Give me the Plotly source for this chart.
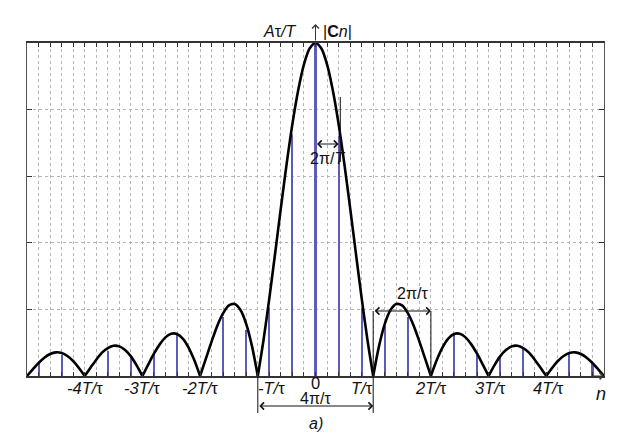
import plotly.graph_objects as go

# ---------------- data ----------------
# envelope |C(n)| sampled on the positive half (units of T/tau), mirrored for negative side
env_u = [0.0, 0.1, 0.2, 0.3, 0.4, 0.5, 0.6, 0.7, 0.8, 0.9,
         1.0, 1.1, 1.2, 1.3, 1.4, 1.5, 1.6, 1.7, 1.8, 1.9,
         2.0, 2.1, 2.2, 2.3, 2.4, 2.5, 2.6, 2.7, 2.8, 2.9,
         3.0, 3.1, 3.2, 3.3, 3.4, 3.5, 3.6, 3.7, 3.8, 3.9,
         4.0, 4.1, 4.2, 4.3, 4.4, 4.5, 4.6, 4.7, 4.8, 4.9, 5.0]
env_v = [1.000, 0.984, 0.936, 0.858, 0.757, 0.637, 0.505, 0.368, 0.234, 0.109,
         0.000, 0.089, 0.156, 0.198, 0.216, 0.212, 0.189, 0.152, 0.104, 0.052,
         0.000, 0.047, 0.085, 0.112, 0.126, 0.127, 0.116, 0.095, 0.067, 0.034,
         0.000, 0.032, 0.059, 0.078, 0.089, 0.091, 0.084, 0.070, 0.049, 0.025,
         0.000, 0.024, 0.045, 0.060, 0.069, 0.071, 0.066, 0.055, 0.039, 0.020, 0.000]

# spectral lines
line_u = [-4.8, -4.4, -4.0, -3.6, -3.2, -2.8, -2.4, -2.0, -1.6, -1.2, -0.8, -0.4,
          0.0, 0.4, 0.8, 1.2, 1.6, 2.0, 2.4, 2.8, 3.2, 3.6, 4.0, 4.4, 4.8]
line_h = [0.042, 0.062, 0.0, 0.075, 0.053, 0.068, 0.122, 0.0, 0.177, 0.137, 0.203, 0.723,
          1.000, 0.720, 0.203, 0.149, 0.177, 0.0, 0.122, 0.062, 0.054, 0.082, 0.0, 0.066, 0.038]

tick_pos = [-4, -3, -2, -1, 0, 1, 2, 3, 4]
tick_txt = ["<i>-4T/</i>τ", "<i>-3T/</i>τ", "<i>-2T/</i>τ", "<i>-T/</i>τ", "0",
            "<i>T/</i>τ", "<i>2T/</i>τ", "<i>3T/</i>τ", "<i>4T/</i>τ"]
tick_shift = [0, 0, 0, 14, 0, -11, 0, 2, 2]
tick_yshift = [0, 0, 0, 0, 5, 0, 0, 0, 0]

# ---------------- geometry ----------------
W, H = 629, 442
ML, MR, MT, MB = 27, 25, 43, 66
XR = [-5, 5]
YR = [0, 1]
PH = H - MT - MB
PW = W - ML - MR
UNIT = PW / (XR[1] - XR[0])


def px(u):
    return (u - XR[0]) / (XR[1] - XR[0])


def py(ypix):
    return (H - MB - ypix) / PH


FONT = "Liberation Sans, Arial, sans-serif"
BLUE = "rgb(92,92,185)"

# build mirrored envelope, split into lobes at zeros (cusps)
full_u = [-u for u in env_u[::-1]] + env_u[1:]
full_v = env_v[::-1] + env_v[1:]
ex, ey = [], []
for i, (u, v) in enumerate(zip(full_u, full_v)):
    ex.append(u)
    ey.append(v)
    if v == 0 and 0 < i < len(full_u) - 1:
        ex += [None, u]
        ey += [None, v]

fig = go.Figure()
widths = [0.055 if u == 0 else 0.036 for u in line_u]
fig.add_trace(go.Bar(x=line_u, y=line_h, width=widths,
                     marker=dict(color=BLUE, line=dict(width=0)),
                     hoverinfo="skip", showlegend=False))
fig.add_trace(go.Scatter(x=ex, y=ey, mode="lines",
                         line=dict(color="black", width=2.6, shape="spline", smoothing=0.8),
                         hoverinfo="skip", showlegend=False, cliponaxis=False))

ann = []
tf = dict(family=FONT, size=16, color="#111")
tk = dict(family=FONT, size=16.5, color="#111")
for p, t, s, ys in zip(tick_pos, tick_txt, tick_shift, tick_yshift):
    ann.append(dict(x=px(p), y=py(388), xref="paper", yref="paper", text=t,
                    showarrow=False, font=tk, xshift=s, yshift=ys,
                    xanchor="center", yanchor="middle"))

ann += [
    dict(x=px(-0.3), y=py(32), xref="paper", yref="paper", text="<i>A</i>τ<i>/T</i>",
         showarrow=False, font=tf, xanchor="right", yanchor="middle"),
    dict(x=px(0.1), y=py(32), xref="paper", yref="paper", text="|<b>C</b><i>n</i>|",
         showarrow=False, font=tf, xanchor="left", yanchor="middle"),
    dict(x=px(0.21), y=py(158), xref="paper", yref="paper", text="2π/<i>T</i>",
         showarrow=False, font=tf, xanchor="center", yanchor="middle"),
    dict(x=px(1.68), y=py(293), xref="paper", yref="paper", text="2π/τ",
         showarrow=False, font=tf, xanchor="center", yanchor="middle"),
    dict(x=px(0), y=py(399), xref="paper", yref="paper", text="4π/τ",
         showarrow=False, font=tf, xanchor="center", yanchor="middle"),
    dict(x=px(0), y=py(423), xref="paper", yref="paper", text="<i>a)</i>",
         showarrow=False, font=tf, xanchor="center", yanchor="middle"),
    dict(x=px(4.95), y=py(394), xref="paper", yref="paper", text="<i>n</i>",
         showarrow=False, font=dict(family=FONT, size=18, color="#111"),
         xanchor="center", yanchor="middle"),
]


# dimension arrows (double headed)
def dim_arrow(u0, u1, ypix):
    return dict(x=px(u1), y=py(ypix), xref="paper", yref="paper",
                ax=-(u1 - u0) * UNIT, ay=0,
                text="", showarrow=True, arrowhead=4, startarrowhead=4,
                arrowside="end+start", arrowsize=1.4, startarrowsize=1.4,
                arrowwidth=1, arrowcolor="#111")


ann += [dim_arrow(-1, 1, 406), dim_arrow(1, 2, 311), dim_arrow(0, 0.4, 144)]
# axis arrows
ann += [
    dict(x=px(0), y=py(24), xref="paper", yref="paper", ax=0, ay=18,
         text="", showarrow=True, arrowhead=4, arrowsize=1.3, arrowwidth=1, arrowcolor="#333"),
    dict(x=px(5.0), y=py(376), xref="paper", yref="paper", ax=-14, ay=0,
         text="", showarrow=True, arrowhead=4, arrowsize=1.3, arrowwidth=1, arrowcolor="#333"),
]

shapes = [
    dict(type="line", xref="paper", yref="paper", x0=px(-1), x1=px(-1), y0=py(376), y1=py(413),
         line=dict(color="#111", width=1)),
    dict(type="line", xref="paper", yref="paper", x0=px(1), x1=px(1), y0=py(311), y1=py(413),
         line=dict(color="#111", width=1)),
    dict(type="line", xref="paper", yref="paper", x0=px(2), x1=px(2), y0=py(311), y1=py(376),
         line=dict(color="#111", width=1)),
    dict(type="line", xref="paper", yref="paper", x0=px(0.43), x1=px(0.43), y0=py(97), y1=py(162),
         line=dict(color="#111", width=1)),
]

fig.update_layout(
    width=W, height=H,
    margin=dict(l=ML, r=MR, t=MT, b=MB, pad=0),
    paper_bgcolor="white", plot_bgcolor="white",
    bargap=0, barmode="overlay",
    annotations=ann, shapes=shapes,
    xaxis=dict(range=XR, showgrid=True, gridcolor="#b5b5b5", griddash="dot", gridwidth=1,
               dtick=0.2, tick0=0, ticks="inside", ticklen=4, tickcolor="#333", tickwidth=1,
               showticklabels=False, zeroline=False, showline=True, linecolor="#333",
               linewidth=2, mirror="ticks", fixedrange=True),
    yaxis=dict(range=YR, showgrid=True, gridcolor="#b5b5b5", griddash="dot", gridwidth=1,
               dtick=0.2, tick0=0, ticks="inside", ticklen=5, tickcolor="#333", tickwidth=1,
               showticklabels=False, zeroline=False, showline=True, linecolor="#555",
               linewidth=1, mirror="ticks", fixedrange=True),
)

fig.write_html("out.html", config={"displayModeBar": False})

# remove the default page margin so the figure sits at the window origin
with open("out.html", encoding="utf-8") as f:
    html = f.read()
html = html.replace("<head>", "<head><style>html,body{margin:0;padding:0;overflow:hidden;}</style>", 1)
with open("out.html", "w", encoding="utf-8") as f:
    f.write(html)
